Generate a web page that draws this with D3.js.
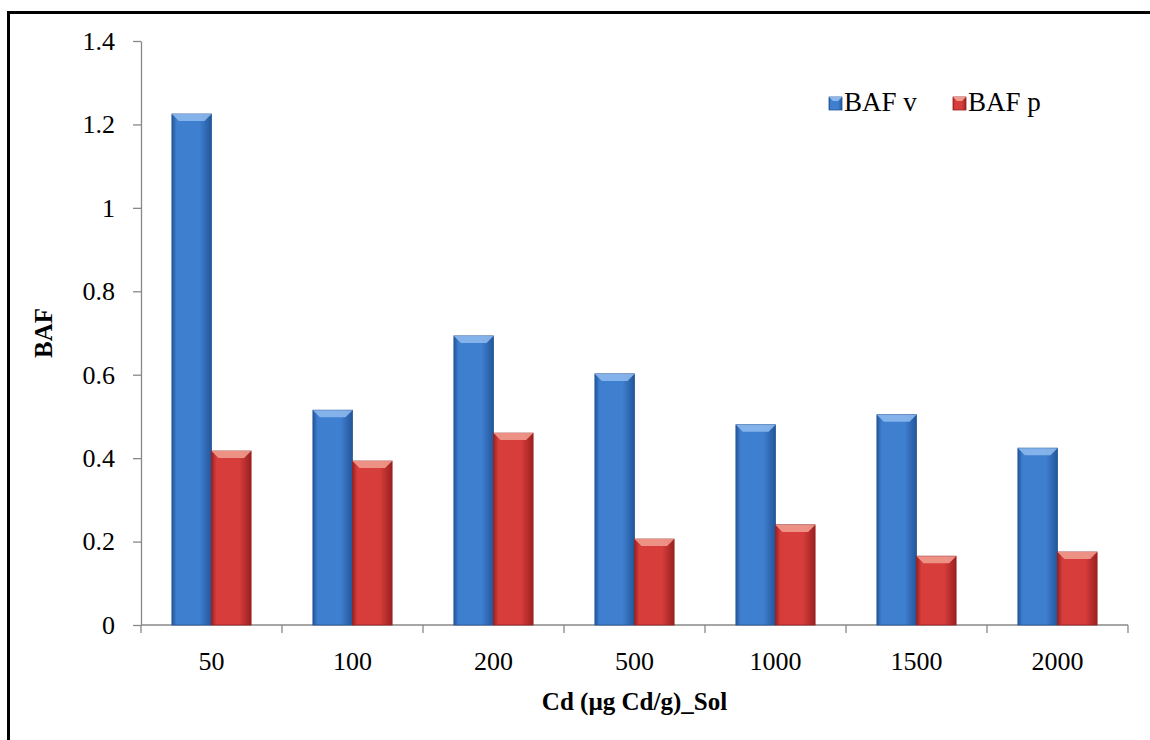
<!DOCTYPE html>
<html>
<head>
<meta charset="utf-8">
<script src="https://cdn.jsdelivr.net/npm/d3@7"></script>
<style>
  body { margin: 0; background: #fff; }
  svg { display: block; }
  svg text { font-family: "Liberation Serif", "DejaVu Serif", serif !important; fill: #000; }
</style>
</head>
<body>
<div id="chart"></div>
<script>
// chart data
const categories = ["50", "100", "200", "500", "1000", "1500", "2000"];
const seriesNames = ["BAF v", "BAF p"];
const bafV = [1.225, 0.515, 0.693, 0.602, 0.48, 0.504, 0.424];
const bafP = [0.417, 0.393, 0.46, 0.206, 0.24, 0.165, 0.175];
const yTicks = [0, 0.2, 0.4, 0.6, 0.8, 1, 1.2, 1.4];

const width = 1150, height = 740;
const margin = {top: 41, right: 20, bottom: 115, left: 141};
const plotW = 1128 - margin.left;
const plotH = 625 - margin.top;

const svg = d3.select("#chart").append("svg")
  .attr("width", width)
  .attr("height", height);

// frame (only top/left visible in the original crop)
svg.append("path")
  .attr("d", `M8.5,${height} V12.5 H${width}`)
  .attr("fill", "none")
  .attr("stroke", "#000")
  .attr("stroke-width", 3);

const defs = svg.append("defs");
const colors = {
  "BAF v": {mid: "#3f7fd0", dark: "#23569a", light: "#8cb8ec"},
  "BAF p": {mid: "#d63d3b", dark: "#9a2020", light: "#f19a8e"}
};
seriesNames.forEach((s, i) => {
  const c = colors[s];
  const grad = defs.append("linearGradient")
    .attr("id", "grad" + i)
    .attr("x1", "0%").attr("x2", "100%").attr("y1", "0%").attr("y2", "0%");
  grad.append("stop").attr("offset", "0%").attr("stop-color", c.dark);
  grad.append("stop").attr("offset", "12%").attr("stop-color", c.mid);
  grad.append("stop").attr("offset", "70%").attr("stop-color", c.mid);
  grad.append("stop").attr("offset", "100%").attr("stop-color", c.dark);
});

const g = svg.append("g")
  .attr("transform", `translate(${margin.left}, ${margin.top})`);

const x = d3.scaleBand()
  .domain(categories)
  .range([0, plotW]);

const xInner = d3.scaleBand()
  .domain(seriesNames)
  .range([0, x.bandwidth()])
  .paddingOuter(0.78)
  .paddingInner(0);

const y = d3.scaleLinear()
  .domain([0, 1.4])
  .range([plotH, 0]);

// y axis
const yAxis = d3.axisLeft(y)
  .tickValues(yTicks)
  .tickFormat(d => d3.format("")(d))
  .tickSizeInner(8)
  .tickSizeOuter(0)
  .tickPadding(18);

g.append("g")
  .call(yAxis)
  .attr("font-size", 26)
  .call(a => a.select(".domain").attr("stroke", "#888").attr("stroke-width", 1.3))
  .call(a => a.selectAll(".tick line").attr("stroke", "#888").attr("stroke-width", 1.3));

// x axis: ticks at category boundaries
const xAxisG = g.append("g")
  .attr("transform", `translate(0, ${plotH})`);

xAxisG.append("line")
  .attr("x1", 0).attr("x2", plotW)
  .attr("stroke", "#888").attr("stroke-width", 1.3);

xAxisG.selectAll(".xtick")
  .data(categories.concat(["end"]))
  .join("line")
  .attr("class", "xtick")
  .attr("x1", (d, i) => i * x.step())
  .attr("x2", (d, i) => i * x.step())
  .attr("y1", 0).attr("y2", 8)
  .attr("stroke", "#888").attr("stroke-width", 1.3);

xAxisG.selectAll(".xlabel")
  .data(categories)
  .join("text")
  .attr("class", "xlabel")
  .attr("x", d => x(d) + x.bandwidth() / 2)
  .attr("y", 45)
  .attr("text-anchor", "middle")
  .attr("font-size", 26)
  .text(d => d);

// bars
const rows = categories.map((c, i) => ({cat: c, values: [
  {key: "BAF v", value: bafV[i]},
  {key: "BAF p", value: bafP[i]}
]}));

const groups = g.selectAll(".cat")
  .data(rows)
  .join("g")
  .attr("class", "cat")
  .attr("transform", d => `translate(${x(d.cat)}, 0)`);

groups.selectAll(".bar")
  .data(d => d.values)
  .join("rect")
  .attr("class", "bar")
  .attr("x", d => xInner(d.key))
  .attr("y", d => y(d.value))
  .attr("width", xInner.bandwidth())
  .attr("height", d => plotH - y(d.value))
  .attr("fill", d => `url(#grad${seriesNames.indexOf(d.key)})`)
  .attr("stroke", d => colors[d.key].dark)
  .attr("stroke-width", 0.8);

// bevelled top cap
groups.selectAll(".cap")
  .data(d => d.values)
  .join("path")
  .attr("class", "cap")
  .attr("d", d => {
    const x0 = xInner(d.key), w = xInner.bandwidth(), y0 = y(d.value), b = 7;
    return `M${x0},${y0} H${x0 + w} L${x0 + w - b},${y0 + b} H${x0 + b} Z`;
  })
  .attr("fill", d => colors[d.key].light)
  .attr("opacity", 0.9);

// axis titles
svg.append("text")
  .attr("x", margin.left + plotW / 2)
  .attr("y", 710)
  .attr("text-anchor", "middle")
  .attr("font-size", 25)
  .attr("font-weight", "bold")
  .text("Cd (µg Cd/g)_Sol");

svg.append("text")
  .attr("transform", `translate(52, ${margin.top + plotH / 2}) rotate(-90)`)
  .attr("text-anchor", "middle")
  .attr("font-size", 25)
  .attr("font-weight", "bold")
  .text("BAF");

// legend
const legend = svg.append("g")
  .attr("transform", "translate(829, 97)");

const legendItems = legend.selectAll(".leg")
  .data(seriesNames)
  .join("g")
  .attr("class", "leg")
  .attr("transform", (d, i) => `translate(${i * 124}, 0)`);

legendItems.append("rect")
  .attr("width", 13).attr("height", 13)
  .attr("fill", (d, i) => `url(#grad${i})`)
  .attr("stroke", d => colors[d].dark)
  .attr("stroke-width", 0.8);

legendItems.append("path")
  .attr("d", "M0,0 H13 L9,4 H4 Z")
  .attr("fill", d => colors[d].light);

legendItems.append("text")
  .attr("x", 15)
  .attr("y", 14)
  .attr("font-size", 27)
  .text(d => d);
</script>
</body>
</html>
